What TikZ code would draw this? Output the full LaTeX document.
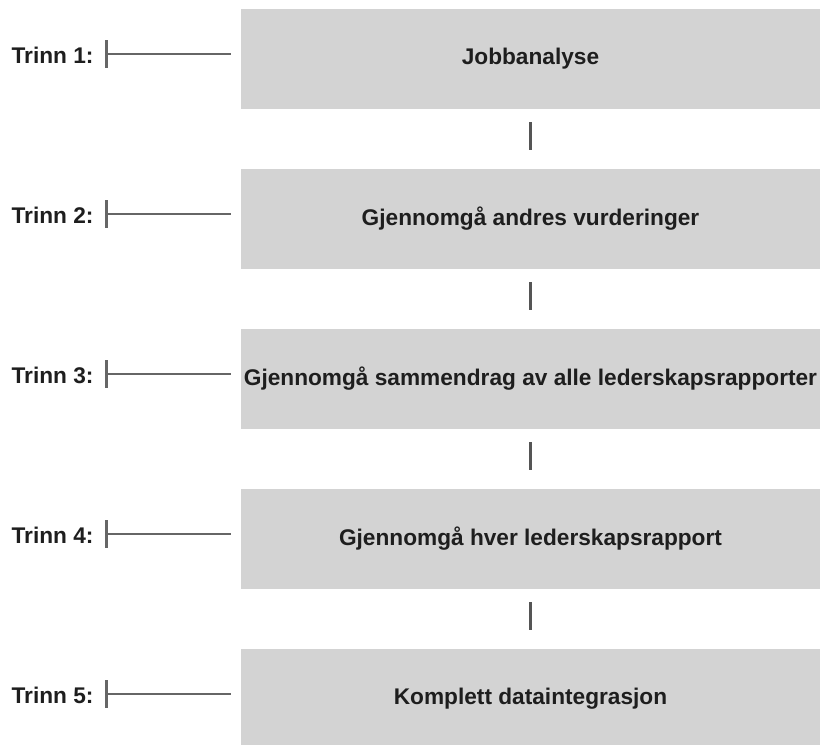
\documentclass[tikz,border=0pt]{standalone}
\usepackage{fontspec}
\setmainfont{Liberation Sans}
\usetikzlibrary{calc}

\definecolor{boxgray}{HTML}{D3D3D3}
\definecolor{linegray}{HTML}{666666}
\definecolor{bargray}{HTML}{555555}
\definecolor{textdark}{HTML}{1E1E1E}

\tikzset{every picture/.style={line width=0.75pt}}
\tikzset{
  stepbox/.style={fill=boxgray, draw=none, text=textdark, minimum width=434.25pt, minimum height=75pt, inner sep=0pt, font=\fontsize{17}{20}\selectfont\bfseries},
  steplabel/.style={anchor=east, inner sep=0.75pt, text=textdark, font=\fontsize{17}{20}\selectfont\bfseries},
  tickline/.style={draw=linegray, line width=1.6pt},
  linkbar/.style={draw=bargray, line width=2.25pt, shorten <=9.75pt, shorten >=13.5pt}
}

\begin{document}
\begin{tikzpicture}[x=0.75pt,y=0.75pt,yscale=-1,xscale=1]
\useasboundingbox (0,0) rectangle (820,744);

%Shape: Rectangle
\node [stepbox] (b1) at (530.5,58.5) {Jobbanalyse};
%Shape: Rectangle
\node [stepbox] (b2) at (530.5,218.5) {Gjennomgå andres vurderinger};
%Shape: Rectangle
\node [stepbox] (b3) at (530.5,378.5) {Gjennomgå sammendrag av alle lederskapsrapporter};
%Shape: Rectangle
\node [stepbox] (b4) at (530.5,538.5) {Gjennomgå hver lederskapsrapport};
%Shape: Rectangle
\node [stepbox] (b5) at (530.5,698.5) {Komplett dataintegrasjon};

% Text Node
\node [steplabel] (t1) at (95,55) {Trinn 1:};
% Text Node
\node [steplabel] (t2) at (95,215) {Trinn 2:};
% Text Node
\node [steplabel] (t3) at (95,375) {Trinn 3:};
% Text Node
\node [steplabel] (t4) at (95,535) {Trinn 4:};
% Text Node
\node [steplabel] (t5) at (95,695) {Trinn 5:};

%Straight Lines
\foreach \i in {1,...,5} {
  \coordinate (k\i) at ($(t\i.east)+(11.5,-1)$);
  \draw [tickline] ($(k\i)+(0,-14)$) -- ($(k\i)+(0,14)$);
  \draw [tickline, shorten >=7.5pt] (k\i) -- (k\i -| b\i.west);
}

%Straight Lines
\draw [linkbar] (b1.south) -- (b2.north);
\draw [linkbar] (b2.south) -- (b3.north);
\draw [linkbar] (b3.south) -- (b4.north);
\draw [linkbar] (b4.south) -- (b5.north);

\end{tikzpicture}
\end{document}
